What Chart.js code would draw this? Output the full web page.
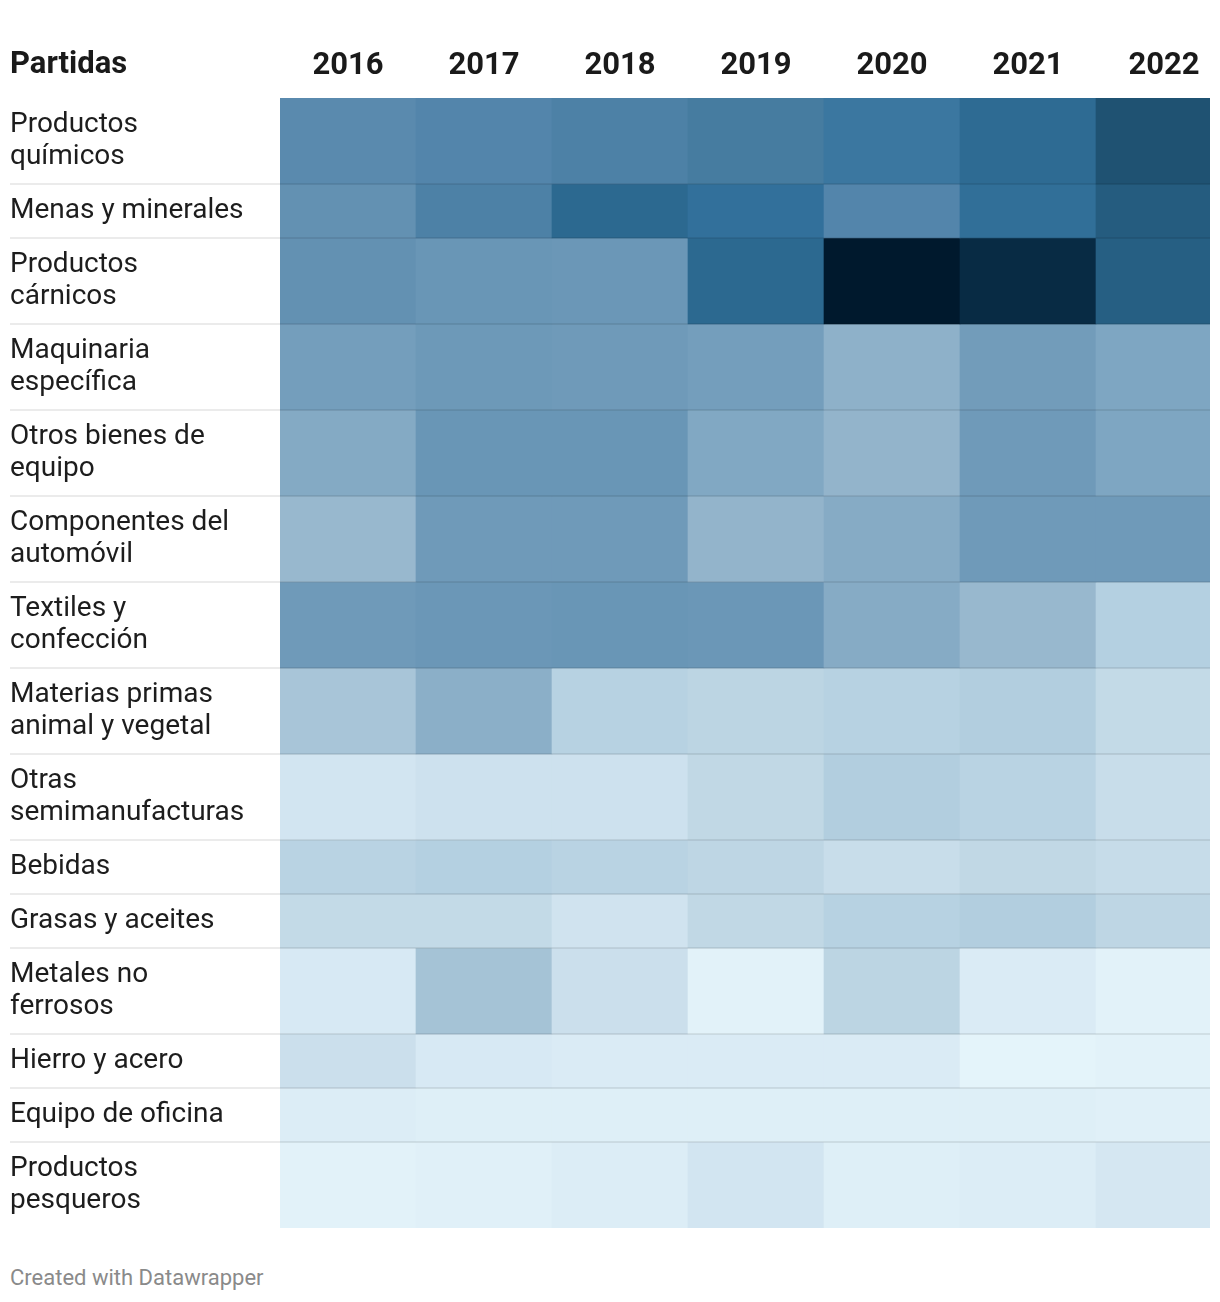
<!DOCTYPE html>
<html>
<head>
<meta charset="utf-8">
<title>Partidas</title>
<script src="https://cdn.jsdelivr.net/npm/chart.js@4.4.1/dist/chart.umd.min.js"></script>
<style>
    body { margin: 0; background: #fff; font-family: Roboto, sans-serif; }
    #wrap { position: relative; width: 1210px; height: 1302px; overflow: hidden; }
    #inner { position: absolute; left: 0; top: 0; width: 1232px; height: 1228px; }
    #title { position: absolute; left: 10px; top: 47px; font-size: 31px; line-height: 32px; font-weight: 700; color: #1a1a1a; }
    #footer { position: absolute; left: 10px; top: 1266px; font-size: 22px; line-height: 24px; color: #8a8a8a; }
</style>
</head>
<body>
<div id="wrap">
    <div id="inner"><canvas id="myChart"></canvas></div>
    <div id="title">Partidas</div>
    <div id="footer">Created with Datawrapper</div>
</div>
<script>

var years = ["2016", "2017", "2018", "2019", "2020", "2021", "2022"];

var partidas = [
    ["Productos", "químicos"],
    ["Menas y minerales"],
    ["Productos", "cárnicos"],
    ["Maquinaria", "específica"],
    ["Otros bienes de", "equipo"],
    ["Componentes del", "automóvil"],
    ["Textiles y", "confección"],
    ["Materias primas", "animal y vegetal"],
    ["Otras", "semimanufacturas"],
    ["Bebidas"],
    ["Grasas y aceites"],
    ["Metales no", "ferrosos"],
    ["Hierro y acero"],
    ["Equipo de oficina"],
    ["Productos", "pesqueros"]
];

// index 0-100, one value per partida (same order as above)
var v2016 = [57, 53, 53, 45, 39, 31, 47, 25,  8, 18, 14,  6, 11, 4, 1];
var v2017 = [60, 63, 50, 48, 50, 47, 49, 36, 10, 20, 14, 26,  6, 3, 2];
var v2018 = [63, 78, 49, 47, 50, 47, 50, 19, 10, 18,  9, 11,  5, 3, 4];
var v2019 = [66, 74, 78, 45, 40, 33, 49, 17, 15, 16, 15,  1,  5, 3, 8];
var v2020 = [70, 60, 100, 35, 33, 38, 38, 19, 21, 12, 19, 17, 5, 3, 3];
var v2021 = [77, 75, 93, 46, 47, 47, 31, 21, 18, 15, 21,  5,  0, 3, 4];
var v2022 = [85, 82, 81, 41, 41, 47, 20, 14, 12, 13, 16,  1,  1, 2, 7];

var values = [v2016, v2017, v2018, v2019, v2020, v2021, v2022];

var stops = [
    [0, "#e4f4fa"], [5, "#daebf5"], [10, "#cde1ee"], [15, "#c1d8e5"], [20, "#b4d0e1"],
    [25, "#a8c5d8"], [33, "#93b4cb"], [40, "#81a8c3"], [47, "#6f9ab9"], [53, "#6391b2"],
    [60, "#5385ab"], [66, "#467ca0"], [72, "#3574a0"], [78, "#2c6990"], [85, "#1f5272"],
    [93, "#082b44"], [100, "#00192d"]
];

function hexToRgb(c) {
    return [parseInt(c.slice(1, 3), 16), parseInt(c.slice(3, 5), 16), parseInt(c.slice(5, 7), 16)];
}

function colorFor(v) {
    for (var i = 1; i < stops.length; i++) {
        if (v <= stops[i][0]) {
            var a = hexToRgb(stops[i - 1][1]);
            var b = hexToRgb(stops[i][1]);
            var t = (v - stops[i - 1][0]) / (stops[i][0] - stops[i - 1][0]);
            return "rgb(" + Math.round(a[0] + (b[0] - a[0]) * t) + "," +
                Math.round(a[1] + (b[1] - a[1]) * t) + "," +
                Math.round(a[2] + (b[2] - a[2]) * t) + ")";
        }
    }
    return stops[stops.length - 1][1];
}

// row height follows the number of label lines
var bounds = [0];
partidas.forEach(function (p) {
    bounds.push(bounds[bounds.length - 1] + 22 + 32 * p.length);
});
var total = bounds[bounds.length - 1];
var centers = partidas.map(function (p, i) { return (bounds[i] + bounds[i + 1]) / 2; });

var datasets = partidas.map(function (p, r) {
    return {
        label: p.join(" "),
        data: years.map(function () { return [bounds[r], bounds[r + 1]]; }),
        vals: values.map(function (col) { return col[r]; }),
        backgroundColor: function (ctx) { return colorFor(ctx.dataset.vals[ctx.dataIndex]); },
        borderWidth: 0,
        grouped: false,
        barPercentage: 1,
        categoryPercentage: 1
    };
});

var rowLines = {
    id: "rowLines",
    afterDatasetsDraw: function (chart) {
        var c = chart.ctx;
        var y = chart.scales.y;
        c.save();
        c.strokeStyle = "rgba(0,0,0,0.08)";
        c.lineWidth = 2;
        for (var i = 1; i < bounds.length - 1; i++) {
            var py = Math.round(y.getPixelForValue(bounds[i]));
            c.beginPath();
            c.moveTo(10, py);
            c.lineTo(chart.chartArea.right, py);
            c.stroke();
        }
        c.restore();
    }
};

Chart.defaults.font.family = "Roboto";

new Chart(document.getElementById("myChart"), {
    type: "bar",
    data: { labels: years, datasets: datasets },
    plugins: [rowLines],
    options: {
        responsive: true,
        maintainAspectRatio: false,
        animation: false,
        layout: { padding: { left: 10, top: 0, right: 0, bottom: 0 } },
        plugins: { legend: { display: false }, tooltip: { enabled: false } },
        scales: {
            x: {
                position: "top",
                grid: { display: false },
                border: { display: false },
                ticks: {
                    color: "#1a1a1a",
                    padding: 5,
                    maxRotation: 0,
                    font: { size: 31, weight: "bold" }
                },
                afterFit: function (scale) {
                    scale.height = 98;
                    scale.paddingLeft = 0;
                    scale.paddingRight = 0;
                }
            },
            y: {
                type: "linear",
                reverse: true,
                min: 0,
                max: total,
                grid: { display: false },
                border: { display: false },
                afterBuildTicks: function (scale) {
                    scale.ticks = centers.map(function (c) { return { value: c }; });
                },
                ticks: {
                    autoSkip: false,
                    crossAlign: "far",
                    color: "#1d1d1d",
                    font: { size: 28, lineHeight: 32 / 28 },
                    callback: function (value, index) { return partidas[index]; }
                },
                afterFit: function (scale) {
                    scale.width = 270;
                    scale.paddingTop = 0;
                    scale.paddingBottom = 0;
                }
            }
        }
    }
});
</script>
</body>
</html>
